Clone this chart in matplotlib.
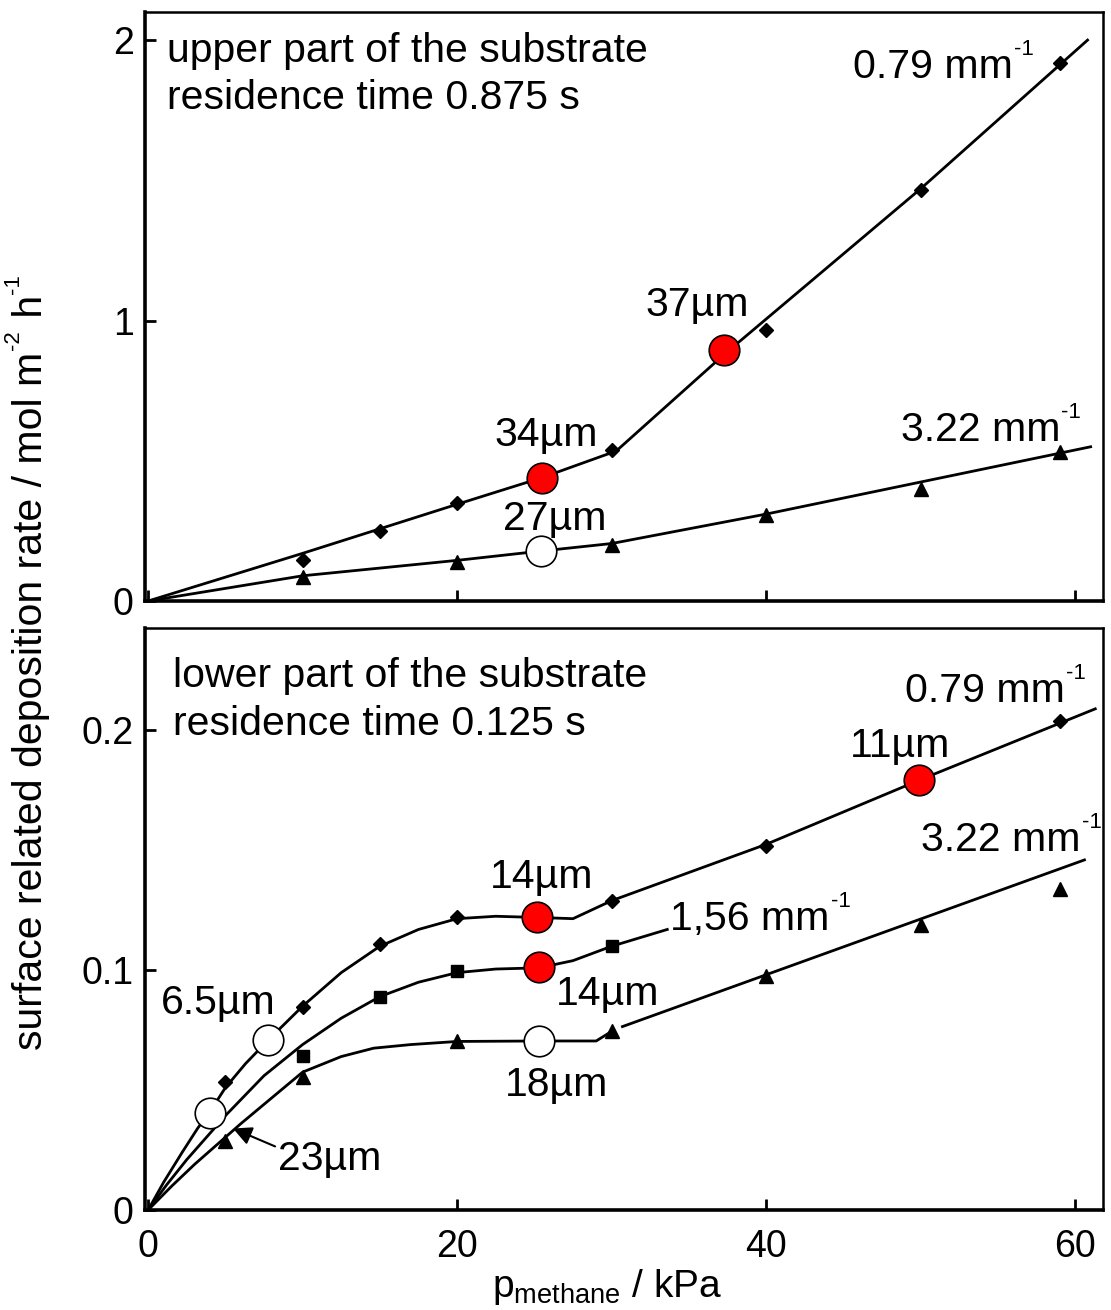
import matplotlib
matplotlib.use("Agg")
import matplotlib.pyplot as plt

plt.rcParams['font.family'] = ['Liberation Sans', 'DejaVu Sans']
plt.rcParams['mathtext.default'] = 'regular'

# ---- upper part of the substrate, residence time 0.875 s ----
up_079_x = [10, 15, 20, 30, 40, 50, 59]
up_079_y = [0.146, 0.25, 0.35, 0.54, 0.968, 1.464, 1.92]
up_322_x = [10, 20, 30, 40, 50, 59]
up_322_y = [0.086, 0.14, 0.2, 0.307, 0.40, 0.53]
# drawn trend lines
up_fit079_x = [0, 10, 20, 25.5, 30.3, 37.3, 50, 60.8]
up_fit079_y = [0, 0.17, 0.345, 0.44, 0.535, 0.88, 1.47, 2.0]
up_fit322_x = [0, 10, 20, 25.4, 30, 40, 61]
up_fit322_y = [0, 0.09, 0.145, 0.178, 0.205, 0.31, 0.55]
# layer thickness markers (red = filled, white = open)
up_red_x = [25.5, 37.3]
up_red_y = [0.44, 0.895]
up_open_x = [25.4]
up_open_y = [0.18]

# ---- lower part of the substrate, residence time 0.125 s ----
lo_079_x = [5, 10, 15, 20, 30, 40, 59]
lo_079_y = [0.0536, 0.0846, 0.111, 0.122, 0.129, 0.152, 0.204]
lo_156_x = [10, 15, 20, 30]
lo_156_y = [0.0644, 0.089, 0.0995, 0.110]
lo_322_x = [5, 10, 20, 30, 40, 50, 59]
lo_322_y = [0.029, 0.0556, 0.0703, 0.0745, 0.0975, 0.119, 0.134]
# drawn trend curves
lo_fit079_x = [0, 1, 2.2, 3.2, 4.2, 5, 6.3, 7.75, 10, 12.5, 15, 17.5, 20, 22.5, 25.2, 27.5, 30, 40, 50, 61.3]
lo_fit079_y = [0, 0.0115, 0.024, 0.034, 0.043, 0.051, 0.061, 0.0707, 0.085, 0.099, 0.110, 0.117, 0.1215, 0.1225, 0.122, 0.1215, 0.129, 0.1525, 0.1795, 0.209]
lo_fit156_x = [0, 1.2, 2.5, 5.1, 7.5, 10, 12.5, 15, 17.5, 20, 22.5, 25.3, 27.5, 30, 33.6]
lo_fit156_y = [0, 0.0105, 0.021, 0.040, 0.056, 0.069, 0.080, 0.089, 0.095, 0.099, 0.1005, 0.101, 0.104, 0.110, 0.117]
lo_fit322a_x = [0, 1.5, 3, 6, 10, 12.5, 14.6, 17, 20, 25.3, 29, 30]
lo_fit322a_y = [0, 0.0098, 0.019, 0.036, 0.0575, 0.064, 0.0675, 0.069, 0.0703, 0.0705, 0.0705, 0.0745]
lo_fit322b_x = [30.7, 60.6]
lo_fit322b_y = [0.0765, 0.146]
lo_red_x = [25.2, 25.3, 49.9]
lo_red_y = [0.122, 0.1014, 0.1795]
lo_open_x = [7.75, 4.0, 25.3]
lo_open_y = [0.0707, 0.0403, 0.0705]

fig = plt.figure(figsize=(11.11, 13.10), dpi=100)
ax1 = fig.add_axes([0.1305, 0.5412, 0.8623, 0.4496])
ax2 = fig.add_axes([0.1305, 0.0763, 0.8623, 0.4443])

lw = 2
fs = 29.5
sup_fs = 16
circ = dict(ls='none', marker='o', ms=22, mec='k', mew=1.2, zorder=5)


def unit_label(ax, x, y, main, sup):
    # text with a small raised "-1" like the original figure
    t = ax.text(x, y, main, fontsize=fs, va='baseline')
    ax.annotate(sup, xy=(1, y), xycoords=(t, 'data'), xytext=(1, 16.5),
                textcoords='offset points', fontsize=sup_fs, va='baseline', ha='left')
    return t


# upper panel
ax1.plot(up_fit079_x, up_fit079_y, color='k', lw=lw)
ax1.plot(up_fit322_x, up_fit322_y, color='k', lw=lw)
ax1.plot(up_079_x, up_079_y, ls='none', marker='D', ms=7, color='k')
ax1.plot(up_322_x, up_322_y, ls='none', marker='^', ms=10, color='k')
ax1.plot(up_red_x, up_red_y, mfc='#ff0000', **circ)
ax1.plot(up_open_x, up_open_y, mfc='white', **circ)

# lower panel
ax2.plot(lo_fit079_x, lo_fit079_y, color='k', lw=lw)
ax2.plot(lo_fit156_x, lo_fit156_y, color='k', lw=lw)
ax2.plot(lo_fit322a_x, lo_fit322a_y, color='k', lw=lw)
ax2.plot(lo_fit322b_x, lo_fit322b_y, color='k', lw=lw)
ax2.plot(lo_079_x, lo_079_y, ls='none', marker='D', ms=7, color='k')
ax2.plot(lo_156_x, lo_156_y, ls='none', marker='s', ms=8, color='k')
ax2.plot(lo_322_x, lo_322_y, ls='none', marker='^', ms=10, color='k')
ax2.plot(lo_red_x, lo_red_y, mfc='#ff0000', **circ)
ax2.plot(lo_open_x, lo_open_y, mfc='white', **circ)

ax1.text(0.023, 0.894, 'upper part of the substrate\nresidence time 0.875 s',
         transform=ax1.transAxes, fontsize=fs, ha='left', va='center', linespacing=1.32)
unit_label(ax1, 45.6, 1.864, '0.79 mm', '-1')
ax1.text(32.2, 1.018, '37µm', fontsize=fs, va='baseline')
ax1.text(22.4, 0.554, '34µm', fontsize=fs, va='baseline')
ax1.text(23.0, 0.254, '27µm', fontsize=fs, va='baseline')
unit_label(ax1, 48.7, 0.571, '3.22 mm', '-1')

ax2.text(0.029, 0.876, 'lower part of the substrate\nresidence time 0.125 s',
         transform=ax2.transAxes, fontsize=fs, ha='left', va='center', linespacing=1.32)
unit_label(ax2, 49.0, 0.2117, '0.79 mm', '-1')
ax2.text(45.4, 0.189, '11µm', fontsize=fs, va='baseline')
unit_label(ax2, 50.0, 0.1498, '3.22 mm', '-1')
ax2.text(22.1, 0.1343, '14µm', fontsize=fs, va='baseline')
unit_label(ax2, 33.8, 0.1167, '1,56 mm', '-1')
ax2.text(26.4, 0.0854, '14µm', fontsize=fs, va='baseline')
ax2.text(0.8, 0.0816, '6.5µm', fontsize=fs, va='baseline')
ax2.text(23.1, 0.0477, '18µm', fontsize=fs, va='baseline')
ax2.annotate('23µm', xy=(5.5, 0.034), xytext=(8.4, 0.0167), fontsize=fs, va='baseline',
             arrowprops=dict(arrowstyle='-|>', color='k', lw=1.5, mutation_scale=28,
                             shrinkA=0, shrinkB=0, relpos=(0, 0.8)))

ax1.set_xlim(-0.2, 61.8)
ax2.set_xlim(-0.2, 61.8)
ax1.set_ylim(0, 2.1)
ax2.set_ylim(0, 0.2427)
ax1.set_xticks([0, 20, 40, 60])
ax2.set_xticks([0, 20, 40, 60])
ax1.set_yticks([0, 1, 2])
ax2.set_yticks([0, 0.1, 0.2])
ax2.set_yticklabels(['0', '0.1', '0.2'])
ax1.tick_params(labelbottom=False)

for ax in (ax1, ax2):
    ax.tick_params(direction='in', length=8, width=2, labelsize=27)
    ax.tick_params(axis='y', pad=8)
    ax.tick_params(axis='x', pad=14)
    for side in ('left', 'bottom'):
        ax.spines[side].set_linewidth(2.6)
    for side in ('top', 'right'):
        ax.spines[side].set_linewidth(1.8)

ax2.set_xlabel('p$_{methane}$ / kPa', fontsize=28)
ax2.xaxis.set_label_coords(0.482, -0.098)

# y label, built in pieces so the exponents are small and raised
x0, y0 = 0.0378, 0.1985
ylab = fig.text(x0, y0, 'surface related deposition rate / mol m', rotation=90,
                rotation_mode='anchor', ha='left', va='baseline', fontsize=fs)
s1 = ax1.annotate('-2', xy=(x0, 1), xycoords=('figure fraction', ylab), xytext=(-16.5, 1),
                  textcoords='offset points', rotation=90, rotation_mode='anchor',
                  ha='left', va='baseline', fontsize=sup_fs, annotation_clip=False)
h = ax1.annotate(' h', xy=(x0, 1), xycoords=('figure fraction', s1), xytext=(0, 1),
                 textcoords='offset points', rotation=90, rotation_mode='anchor',
                 ha='left', va='baseline', fontsize=fs, annotation_clip=False)
ax1.annotate('-1', xy=(x0, 1), xycoords=('figure fraction', h), xytext=(-16.5, 1),
             textcoords='offset points', rotation=90, rotation_mode='anchor',
             ha='left', va='baseline', fontsize=sup_fs, annotation_clip=False)

fig.savefig('out.png', dpi=100)
